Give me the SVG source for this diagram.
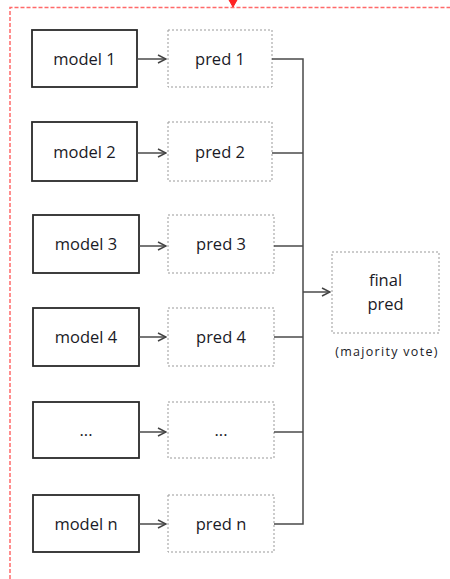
<svg xmlns="http://www.w3.org/2000/svg" width="450" height="579" viewBox="0 0 450 579">
  <style>
    .model rect { fill: #fff; stroke: #2a2a2a; stroke-width: 1.8; }
    .pred rect { fill: #fff; stroke: #999; stroke-width: 1; stroke-dasharray: 2 2; }
    text { font-family: "Open Sans", "Liberation Sans", sans-serif; font-size: 16.5px; fill: #1a1a26; text-anchor: middle; }
    .note { font-size: 12.5px; letter-spacing: 1.3px; }
    .conn { fill: none; stroke: #4a4a4a; stroke-width: 1.5; }
    .frame { fill: none; stroke: #ff6a6a; stroke-width: 1.5; stroke-dasharray: 4 2; }
  </style>
  <defs>
    <marker id="open" viewBox="0 0 10 10" refX="9" refY="5" markerWidth="10" markerHeight="10" markerUnits="userSpaceOnUse" orient="auto">
      <path d="M1,1 L9,5 L1,9" fill="none" stroke="#444" stroke-width="1.5"/>
    </marker>
  </defs>
  <rect width="450" height="579" fill="#fff"/>

  <!-- outer dashed frame with incoming arrow at top -->
  <path class="frame" d="M10,579 L10,7.5 L452,7.5"/>
  <path d="M229,0 L233,7 L237,0 Z" fill="#f22" stroke="#f22" stroke-width="1"/>

  <!-- models -->
  <g id="model1" class="model"><rect x="32" y="30" width="105" height="57"/><text x="84.5" y="65">model 1</text></g>
  <g id="model2" class="model"><rect x="32" y="122" width="105" height="59"/><text x="84.5" y="158">model 2</text></g>
  <g id="model3" class="model"><rect x="33" y="215" width="106" height="58"/><text x="86" y="250">model 3</text></g>
  <g id="model4" class="model"><rect x="33" y="308" width="106" height="58"/><text x="86" y="343">model 4</text></g>
  <g id="model-etc" class="model"><rect x="33" y="402" width="106" height="56"/><text x="86" y="436">...</text></g>
  <g id="modeln" class="model"><rect x="33" y="495" width="106" height="57"/><text x="86" y="530">model n</text></g>

  <!-- predictions -->
  <g id="pred1" class="pred"><rect x="168" y="30" width="104" height="57"/><text x="220" y="65">pred 1</text></g>
  <g id="pred2" class="pred"><rect x="168" y="122" width="104" height="59"/><text x="220" y="158">pred 2</text></g>
  <g id="pred3" class="pred"><rect x="168" y="215" width="106" height="58"/><text x="221" y="250">pred 3</text></g>
  <g id="pred4" class="pred"><rect x="168" y="308" width="106" height="58"/><text x="221" y="343">pred 4</text></g>
  <g id="pred-etc" class="pred"><rect x="168" y="402" width="106" height="56"/><text x="221" y="436">...</text></g>
  <g id="predn" class="pred"><rect x="168" y="495" width="106" height="57"/><text x="221" y="530">pred n</text></g>

  <!-- final prediction -->
  <g id="final" class="pred">
    <rect x="332" y="252" width="107" height="81"/>
    <text x="385.5" y="286">final</text>
    <text x="385.5" y="310">pred</text>
    <text class="note" x="387" y="356">(majority vote)</text>
  </g>

  <!-- connectors -->
  <g id="connectors">
    <line class="conn" x1="137" y1="59" x2="166" y2="59" marker-end="url(#open)"/>
    <line class="conn" x1="137" y1="153" x2="166" y2="153" marker-end="url(#open)"/>
    <line class="conn" x1="139" y1="246" x2="166" y2="246" marker-end="url(#open)"/>
    <line class="conn" x1="139" y1="337" x2="166" y2="337" marker-end="url(#open)"/>
    <line class="conn" x1="139" y1="432" x2="166" y2="432" marker-end="url(#open)"/>
    <line class="conn" x1="139" y1="524" x2="166" y2="524" marker-end="url(#open)"/>
    <path class="conn" d="M272,59 H303 V524 H274"/>
    <line class="conn" x1="272" y1="153" x2="303" y2="153"/>
    <line class="conn" x1="274" y1="246" x2="303" y2="246"/>
    <line class="conn" x1="274" y1="337" x2="303" y2="337"/>
    <line class="conn" x1="274" y1="432" x2="303" y2="432"/>
    <line class="conn" x1="303" y1="292" x2="330" y2="292" marker-end="url(#open)"/>
  </g>
</svg>
